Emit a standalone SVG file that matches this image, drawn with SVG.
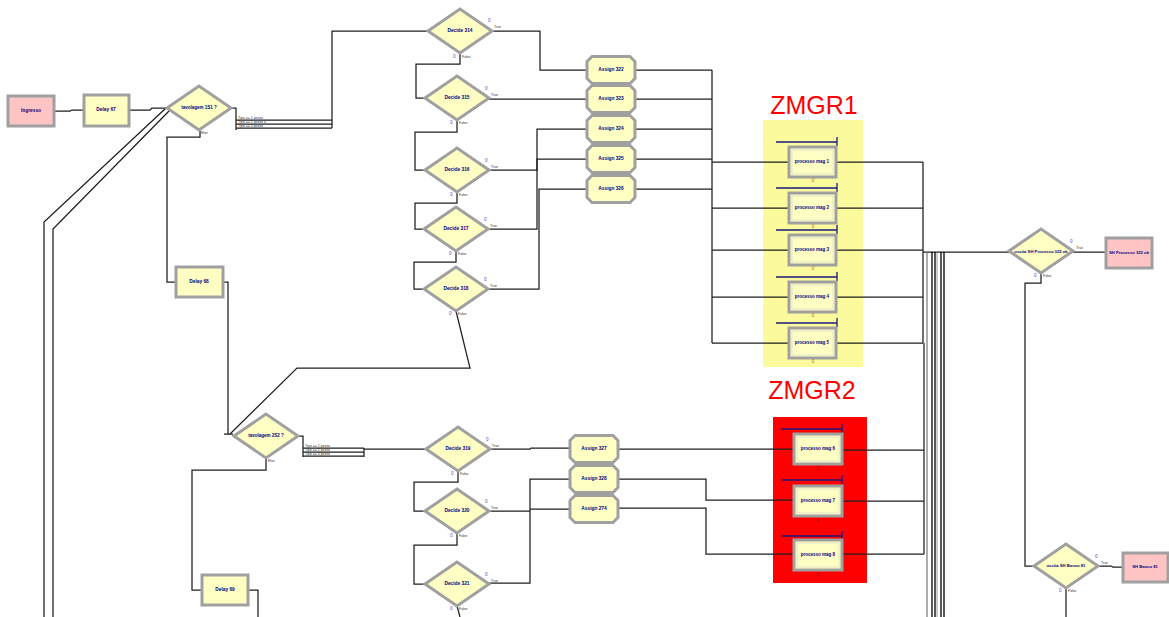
<svg xmlns="http://www.w3.org/2000/svg" width="1169" height="617" viewBox="0 0 1169 617">
<defs>
<style>
.ln{fill:none;stroke:#1e1e1e;stroke-width:1.25}
.bl{fill:none;stroke:#000;stroke-width:1.3}
.dec{fill:#ffffc4;stroke:#a0a0a0;stroke-width:3;stroke-linejoin:miter}
.box{fill:#ffffc4;stroke:#a0a0a0;stroke-width:3}
.inner{fill:none;stroke:#e2e2c8;stroke-width:1}
.pink{fill:#ffc4c4;stroke:#a0a0a0;stroke-width:3}
.res{fill:none;stroke:#1a1a7a;stroke-width:1.3}
.lbl{font-family:"Liberation Sans",Arial,sans-serif;font-size:4.8px;font-weight:bold;fill:#000080;text-anchor:middle;dominant-baseline:middle}
.tiny{font-family:"Liberation Sans",Arial,sans-serif;font-size:3.5px;fill:#333}
.zero{font-family:"Liberation Sans",Arial,sans-serif;font-size:4.5px;fill:#4a4ad0}
.oz{font-family:"Liberation Sans",Arial,sans-serif;font-size:4.5px;fill:#c06000;text-anchor:middle}
.zm{font-family:"Liberation Sans",Arial,sans-serif;font-size:25px;fill:#ff0000;text-anchor:middle}
</style>
<polygon id="dia" points="-32,0 0,-22 32,0 0,22"/>
<path id="oct" d="M-19,-13.5 H19 L24,-8.5 V8.5 L19,13.5 H-19 L-24,8.5 V-8.5 Z"/>
</defs>
<rect width="1169" height="617" fill="#fff"/>

<g id="zmgr1">
<rect x="763" y="120" width="100" height="247" fill="#fbfa9c"/>
<text class="zm" x="814" y="114">ZMGR1</text>
</g>
<g id="zmgr2">
<rect x="773" y="417" width="94" height="166" fill="#ff0000"/>
<text class="zm" x="812" y="399">ZMGR2</text>
</g>

<g id="connectors">
<path class="ln" d="M54,111 H70 L72,110 H84"/>
<path class="ln" d="M129,110 H150 L152,108 H167"/>
<path class="ln" d="M230,108 H236 V130 M236,120 H332 M236,124 H332 M236,128 H332 M332,128 V31 H429"/>
<path class="ln" d="M200,131 V137 H167 V282 H176"/>
<path class="ln" d="M223,282 H228 V434 M224,434 H233"/>
<path class="ln" d="M166,108 L44,222 V617"/>
<path class="ln" d="M170,110 L53,229 V617"/>
<path class="ln" d="M456,311 L470,368 H297 L230,434"/>
<path class="ln" d="M298,436 H303 V457 M303,448 H364 M303,452 H364 M303,456 H364 M364,448 V457 M364,449 H426"/>
<path class="ln" d="M266,458 V470 H192 V590 H202"/>
<path class="ln" d="M248,590 H258 V617"/>
<path class="ln" d="M460,53 V64 H416 V98 H425"/>
<path class="ln" d="M457,120 V132 H415 V170 H425"/>
<path class="ln" d="M457,192 V203 H415 V229 H424"/>
<path class="ln" d="M456,251 V262 H414 V289 H424"/>
<path class="ln" d="M492,31 H540 V70 H587"/>
<path class="ln" d="M489,99 H587"/>
<path class="ln" d="M489,170 H537 V129 H587"/>
<path class="ln" d="M488,229 H537 V159 H587"/>
<path class="ln" d="M488,289 H539 V189 H587"/>
<path class="ln" d="M635,70 H712 M635,99 H712 M635,129 H712 M635,159 H712 M635,189 H712 M712,70 V343"/>
<path class="ln" d="M712,162 H789 M712,208 H789 M712,250 H789 M712,297 H789 M712,343 H789"/>
<path class="ln" d="M836,162 H923 M836,208 H923 M836,250 H923 M836,297 H923 M836,343 H923 M923,162 V343"/>
<path class="ln" d="M924,343 V554"/>
<path class="ln" d="M842,450 H924 M842,501 H924 M842,554 H924"/>
<path class="ln" d="M923,252 H1009"/>
<path d="M927,252 V617" stroke="#777" stroke-width="1.2" fill="none"/>
<path class="bl" d="M932,252 V617 M935,252 V617 M941,252 V617 M944,252 V617"/>
<path d="M937,252 V617" stroke="#888" stroke-width="0.8" fill="none"/>
<path class="ln" d="M490,449 H530 L531,448 H570"/>
<path class="ln" d="M489,511 H530 V479 H570 M530,509 H570 M530,511 V583 H489"/>
<path class="ln" d="M458,472 V482 H414 V511 H425"/>
<path class="ln" d="M457,533 V545 H414 V584 H425"/>
<path class="ln" d="M457,606 L460,617"/>
<path class="ln" d="M619,449 H794"/>
<path class="ln" d="M619,479 H706 V500 H794"/>
<path class="ln" d="M619,508 H706 V554 H794"/>
<path class="ln" d="M1073,252 H1106"/>
<path class="ln" d="M1041,273 V283 H1025 V566 H1035"/>
<path class="ln" d="M1098,566 H1111 L1113,567 H1123"/>
<path class="ln" d="M1066,588 V617"/>
<text class="tiny" x="238" y="119">Tipo == 1  pezzo</text>
<text class="tiny" x="238" y="123">Tipo == 2  pezzo a</text>
<text class="tiny" x="238" y="127">Tipo == 3  pezzo</text>
<text class="tiny" x="305" y="447">Tipo == 1  pezzo</text>
<text class="tiny" x="305" y="451">Tipo == 2  pezzo</text>
<text class="tiny" x="305" y="455">Tipo == 3  pezzo</text>
</g>

<g id="ingresso"><rect class="pink" x="8" y="96" width="46" height="30"/><text class="lbl" x="31" y="111">Ingresso</text></g>
<g id="sink1"><rect class="pink" x="1106" y="238" width="46" height="30"/><text class="lbl" x="1129" y="253" style="font-size:4.2px">SH Processo 322 ok</text></g>
<g id="sink2"><rect class="pink" x="1123" y="553" width="45" height="29"/><text class="lbl" x="1145" y="567" style="font-size:4.2px">SH Banco 81</text></g>

<g id="delay67"><rect class="box" x="84" y="95" width="45" height="31"/><text class="lbl" x="106" y="110">Delay 67</text></g>
<g id="delay68"><rect class="box" x="176" y="267" width="47" height="30"/><text class="lbl" x="199" y="282">Delay 68</text></g>
<g id="delay69"><rect class="box" x="202" y="575" width="46" height="30"/><text class="lbl" x="225" y="590">Delay 69</text></g>

<g id="decide-a"><use href="#dia" class="dec" transform="translate(199,108)"/><text class="lbl" x="199" y="108" style="font-size:4.5px">tavolagem 1S1 ?</text><text class="tiny" x="201" y="134">Else</text></g>
<g id="decide-b"><use href="#dia" class="dec" transform="translate(266,436)"/><text class="lbl" x="266" y="436" style="font-size:4.5px">tavolagem 2S2 ?</text><text class="tiny" x="268" y="462">Else</text></g>

<g id="decide314"><use href="#dia" class="dec" transform="translate(460,31)"/><text class="lbl" x="460" y="31">Decide 314</text><text class="zero" x="488" y="22">0</text><text class="tiny" x="494" y="28">True</text><text class="zero" x="453" y="58">0</text><text class="tiny" x="462" y="58">False</text></g>
<g id="decide315"><use href="#dia" class="dec" transform="translate(457,98)"/><text class="lbl" x="457" y="98">Decide 315</text><text class="zero" x="485" y="90">0</text><text class="tiny" x="491" y="96">True</text><text class="zero" x="450" y="124">0</text><text class="tiny" x="459" y="124">False</text></g>
<g id="decide316"><use href="#dia" class="dec" transform="translate(457,170)"/><text class="lbl" x="457" y="170">Decide 316</text><text class="zero" x="485" y="162">0</text><text class="tiny" x="491" y="168">True</text><text class="zero" x="450" y="196">0</text><text class="tiny" x="459" y="196">False</text></g>
<g id="decide317"><use href="#dia" class="dec" transform="translate(456,229)"/><text class="lbl" x="456" y="229">Decide 317</text><text class="zero" x="484" y="221">0</text><text class="tiny" x="490" y="227">True</text><text class="zero" x="449" y="255">0</text><text class="tiny" x="458" y="255">False</text></g>
<g id="decide318"><use href="#dia" class="dec" transform="translate(456,289)"/><text class="lbl" x="456" y="289">Decide 318</text><text class="zero" x="484" y="281">0</text><text class="tiny" x="490" y="287">True</text><text class="zero" x="449" y="315">0</text><text class="tiny" x="458" y="315">False</text></g>
<g id="decide319"><use href="#dia" class="dec" transform="translate(458,449)"/><text class="lbl" x="458" y="449">Decide 319</text><text class="zero" x="486" y="441">0</text><text class="tiny" x="492" y="447">True</text><text class="zero" x="451" y="475">0</text><text class="tiny" x="460" y="475">False</text></g>
<g id="decide320"><use href="#dia" class="dec" transform="translate(457,511)"/><text class="lbl" x="457" y="511">Decide 320</text><text class="zero" x="485" y="503">0</text><text class="tiny" x="491" y="509">True</text><text class="zero" x="450" y="537">0</text><text class="tiny" x="459" y="537">False</text></g>
<g id="decide321"><use href="#dia" class="dec" transform="translate(457,584)"/><text class="lbl" x="457" y="584">Decide 321</text><text class="zero" x="485" y="576">0</text><text class="tiny" x="491" y="582">True</text><text class="zero" x="450" y="610">0</text><text class="tiny" x="459" y="610">False</text></g>
<g id="decide-sh1"><use href="#dia" class="dec" transform="translate(1041,251)"/><text class="lbl" x="1041" y="252" style="font-size:4.2px">uscita SH Processo 322 ok</text><text class="zero" x="1070" y="243">0</text><text class="tiny" x="1076" y="249">True</text><text class="zero" x="1034" y="277">0</text><text class="tiny" x="1043" y="277">False</text></g>
<g id="decide-sh2"><use href="#dia" class="dec" transform="translate(1066,566)"/><text class="lbl" x="1066" y="566" style="font-size:4.2px">uscita SH Banco 81</text><text class="zero" x="1095" y="558">0</text><text class="tiny" x="1101" y="564">True</text><text class="zero" x="1059" y="592">0</text><text class="tiny" x="1068" y="592">False</text></g>

<g id="assign322"><use href="#oct" class="box" transform="translate(611,70)"/><text class="lbl" x="611" y="70">Assign 322</text></g>
<g id="assign323"><use href="#oct" class="box" transform="translate(611,99)"/><text class="lbl" x="611" y="99">Assign 323</text></g>
<g id="assign324"><use href="#oct" class="box" transform="translate(611,129)"/><text class="lbl" x="611" y="129">Assign 324</text></g>
<g id="assign325"><use href="#oct" class="box" transform="translate(611,159)"/><text class="lbl" x="611" y="159">Assign 325</text></g>
<g id="assign326"><use href="#oct" class="box" transform="translate(611,189)"/><text class="lbl" x="611" y="189">Assign 326</text></g>
<g id="assign327"><use href="#oct" class="box" transform="translate(594,449)"/><text class="lbl" x="594" y="449">Assign 327</text></g>
<g id="assign328"><use href="#oct" class="box" transform="translate(594,479)"/><text class="lbl" x="594" y="479">Assign 328</text></g>
<g id="assign274"><use href="#oct" class="box" transform="translate(594,509)"/><text class="lbl" x="594" y="509">Assign 274</text></g>

<g id="proc1"><path class="res" d="M776,142 H837 M837,137 V146"/><rect class="box" x="789" y="147" width="47" height="30"/><rect class="inner" x="792" y="150" width="41" height="24"/><text class="lbl" x="812" y="162" style="font-size:4.5px">processo mag 1</text><text class="oz" x="813" y="182">0</text></g>
<g id="proc2"><path class="res" d="M776,188 H837 M837,183 V192"/><rect class="box" x="789" y="193" width="47" height="30"/><rect class="inner" x="792" y="196" width="41" height="24"/><text class="lbl" x="812" y="208" style="font-size:4.5px">processo mag 2</text><text class="oz" x="813" y="228">0</text></g>
<g id="proc3"><path class="res" d="M776,230 H837 M837,225 V234"/><rect class="box" x="789" y="235" width="47" height="30"/><rect class="inner" x="792" y="238" width="41" height="24"/><text class="lbl" x="812" y="250" style="font-size:4.5px">processo mag 3</text><text class="oz" x="813" y="270">0</text></g>
<g id="proc4"><path class="res" d="M776,277 H837 M837,272 V281"/><rect class="box" x="789" y="282" width="47" height="30"/><rect class="inner" x="792" y="285" width="41" height="24"/><text class="lbl" x="812" y="297" style="font-size:4.5px">processo mag 4</text><text class="oz" x="813" y="317">0</text></g>
<g id="proc5"><path class="res" d="M776,323 H837 M837,318 V327"/><rect class="box" x="789" y="328" width="47" height="30"/><rect class="inner" x="792" y="331" width="41" height="24"/><text class="lbl" x="812" y="343" style="font-size:4.5px">processo mag 5</text><text class="oz" x="813" y="363">0</text></g>

<g id="proc6"><path class="res" d="M781,429 H842 M842,424 V433"/><rect class="box" x="794" y="434" width="48" height="30"/><rect class="inner" x="797" y="437" width="42" height="24"/><text class="lbl" x="818" y="449" style="font-size:4.5px">processo mag 6</text><text class="oz" x="818" y="470" style="fill:#900">0</text></g>
<g id="proc7"><path class="res" d="M781,480 H842 M842,475 V484"/><rect class="box" x="794" y="486" width="48" height="30"/><rect class="inner" x="797" y="489" width="42" height="24"/><text class="lbl" x="818" y="501" style="font-size:4.5px">processo mag 7</text><text class="oz" x="818" y="522" style="fill:#900">0</text></g>
<g id="proc8"><path class="res" d="M781,536 H842 M842,531 V540"/><rect class="box" x="794" y="540" width="48" height="30"/><rect class="inner" x="797" y="543" width="42" height="24"/><text class="lbl" x="818" y="555" style="font-size:4.5px">processo mag 8</text><text class="oz" x="818" y="576" style="fill:#900">0</text></g>
</svg>
